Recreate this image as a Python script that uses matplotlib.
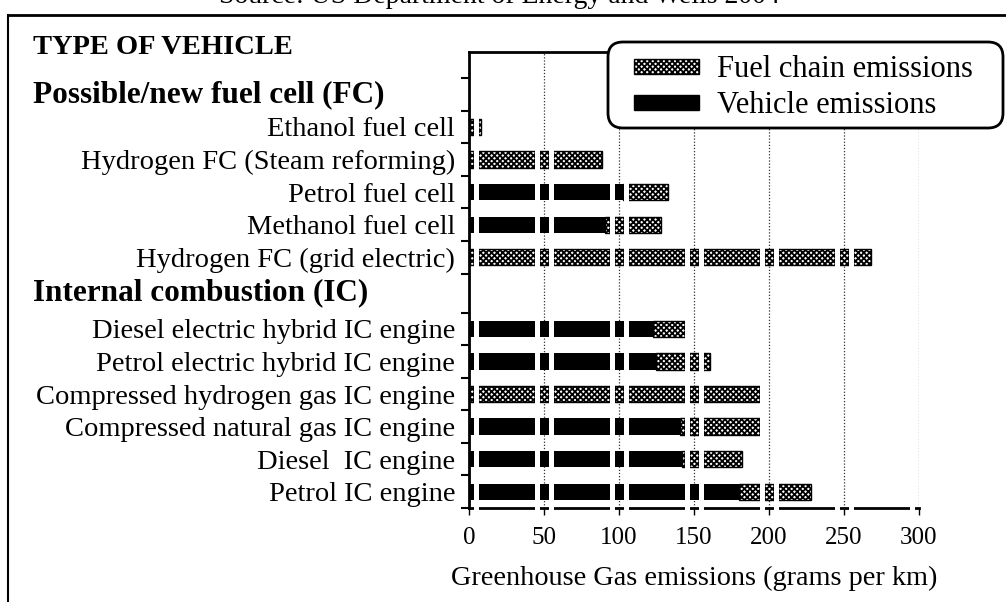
"""Greenhouse gas emissions per km by vehicle type (fuel cell vs internal combustion)."""

import matplotlib.pyplot as plt
from matplotlib.lines import Line2D
from matplotlib.patches import FancyBboxPatch, Patch
from matplotlib.transforms import blended_transform_factory

plt.rcParams["font.family"] = ["Liberation Serif", "DejaVu Serif"]
plt.rcParams["hatch.linewidth"] = 1.3

SOURCE = "Source: US Department of Energy and Wells 2004"
GROUP_TITLE = "TYPE OF VEHICLE"

# Possible/new fuel cell (FC), top to bottom, grams per km
FC_HEADER = "Possible/new fuel cell (FC)"
FC_LABELS = [
    "Ethanol fuel cell",
    "Hydrogen FC (Steam reforming)",
    "Petrol fuel cell",
    "Methanol fuel cell",
    "Hydrogen FC (grid electric)",
]
FC_VEHICLE = [0, 0, 103, 91, 0]
FC_FUEL = [8, 89, 30, 37, 268]

# Internal combustion (IC)
IC_HEADER = "Internal combustion (IC)"
IC_LABELS = [
    "Diesel electric hybrid IC engine",
    "Petrol electric hybrid IC engine",
    "Compressed hydrogen gas IC engine",
    "Compressed natural gas IC engine",
    "Diesel  IC engine",
    "Petrol IC engine",
]
IC_VEHICLE = [123, 125, 0, 141, 142, 180]
IC_FUEL = [23, 36, 194, 53, 40, 48]

X_TICKS = [0, 50, 100, 150, 200, 250, 300]
X_LABEL = "Greenhouse Gas emissions (grams per km)"
LEGEND_LABELS = ["Fuel chain emissions", "Vehicle emissions"]

FUEL_STYLE = dict(facecolor="white", edgecolor="black", hatch="xxxxxx", linewidth=1.0)
FC_SHIFT = 0.2  # the FC block sits a little higher than the IC block in the scan


def main() -> None:
    fig = plt.figure(figsize=(10.06, 6.02), dpi=100)
    ax = fig.add_axes([0.4662, 0.1561, 0.4473, 0.7575])

    # row layout: blank row, FC header, FC rows, IC header, IC rows
    fc_rows = [2 + i for i in range(len(FC_LABELS))]
    ic_header_row = fc_rows[-1] + 1
    ic_rows = [ic_header_row + 1 + i for i in range(len(IC_LABELS))]
    n_rows = ic_rows[-1] + 1

    centers = [r + 0.5 - FC_SHIFT for r in fc_rows] + [r + 0.5 for r in ic_rows]
    labels = FC_LABELS + IC_LABELS
    vehicle = FC_VEHICLE + IC_VEHICLE
    fuel = FC_FUEL + IC_FUEL

    ax.barh(centers, vehicle, height=0.5, color="black", zorder=2)
    ax.barh(centers, fuel, left=vehicle, height=0.5, zorder=2, **FUEL_STYLE)

    ax.set_xlim(0, 300)
    ax.set_ylim(n_rows, 0)

    # bottom axis line drawn by hand so the white gaps can break it
    ax.spines["bottom"].set_visible(False)
    ax.axhline(n_rows, color="black", linewidth=2, zorder=2.6, clip_on=False)

    # scan-like white gaps on either side of each gridline
    for g in X_TICKS:
        for x in (g - 4.7, g + 4.7):
            if 0 < x < 300:
                ax.vlines(x, 0.8, n_rows + 0.15, color="white", linewidth=3.6,
                          zorder=3, clip_on=False)

    ax.grid(axis="x", color="#333333", linestyle=(0, (1, 1.5)), linewidth=0.9)
    ax.set_axisbelow(True)

    ax.set_xticks(X_TICKS)
    ax.set_xticklabels([str(t) for t in X_TICKS], fontsize=18)
    ax.tick_params(axis="x", direction="out", length=5, width=1, pad=9)
    ax.set_xlabel(X_LABEL, fontsize=20.3, labelpad=12)

    ax.set_yticks(centers)
    ax.set_yticklabels(labels, fontsize=20.5)
    ax.tick_params(axis="y", which="major", length=0, pad=10)
    boundaries = [b - FC_SHIFT for b in range(1, ic_header_row + 1)] + list(range(ic_header_row + 1, n_rows + 1))
    ax.set_yticks(boundaries, minor=True)
    ax.tick_params(axis="y", which="minor", direction="out", length=6, width=1.5)

    ax.spines["left"].set_linewidth(2)
    ax.spines["top"].set_linewidth(2)
    ax.spines["right"].set_visible(False)

    # group headers in the label column
    head_tf = blended_transform_factory(fig.transFigure, ax.transData)
    fig.text(33 / 1006, 1 - 47 / 602, GROUP_TITLE, fontsize=20.5,
             fontweight="bold", va="center", ha="left")
    ax.text(33 / 1006, 1.5 - FC_SHIFT, FC_HEADER, transform=head_tf, fontsize=22.5,
            fontweight="bold", va="center", ha="left")
    ax.text(33 / 1006, ic_header_row + 0.4, IC_HEADER, transform=head_tf, fontsize=22.5,
            fontweight="bold", va="center", ha="left")

    # rounded legend box, wider than its entries as in the original
    box = FancyBboxPatch((6.08, 4.74), 3.95, 0.86, boxstyle="round,pad=0,rounding_size=0.15",
                         transform=fig.dpi_scale_trans, facecolor="white",
                         edgecolor="black", linewidth=2, zorder=2)
    fig.add_artist(box)
    handles = [Patch(**FUEL_STYLE), Patch(facecolor="black", edgecolor="black")]
    fig.legend(handles, LEGEND_LABELS, loc="upper left",
               bbox_to_anchor=(610 / 1006, 1 - 31 / 602), fontsize=22,
               handlelength=2.1, handleheight=0.4, handletextpad=0.6,
               labelspacing=0.22, borderpad=0.3, frameon=False)

    # outer frame and the clipped source line of the original scan
    fig.add_artist(Line2D([8 / 1006, 8 / 1006], [0, 1 - 15 / 602], color="black", linewidth=1.5))
    fig.add_artist(Line2D([8 / 1006, 1], [1 - 15 / 602, 1 - 15 / 602], color="black", linewidth=2))
    fig.text(0.496, 1 - 3 / 602, SOURCE, fontsize=20, ha="center", va="baseline")

    fig.savefig("out.png", dpi=100)
    plt.close(fig)


if __name__ == "__main__":
    main()
